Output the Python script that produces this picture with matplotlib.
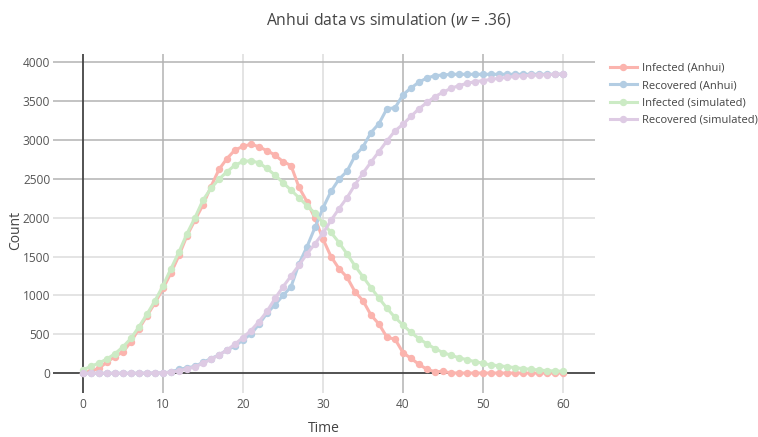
import numpy as np
import matplotlib
matplotlib.use("Agg")
import matplotlib.pyplot as plt

plt.rcParams['font.family'] = ['Open Sans', 'DejaVu Sans']
plt.rcParams['mathtext.fontset'] = 'custom'
plt.rcParams['mathtext.it'] = 'Open Sans:italic'
plt.rcParams['mathtext.rm'] = 'Open Sans'

t = np.arange(61)

infected_anhui = [10, 30, 65, 145, 215, 275, 405, 575, 740, 905,
                  1090, 1290, 1515, 1770, 1970, 2165, 2400, 2620, 2760, 2870,
                  2915, 2945, 2910, 2860, 2805, 2720, 2670, 2390, 2205, 1990,
                  1725, 1500, 1345, 1235, 1047, 932, 748, 632, 462, 440,
                  265, 192, 115, 51, 21, 25, 5, 3, 3, 3,
                  3, 3, 3, 3, 3, 3, 3, 3, 3, 3, 3]
recovered_anhui = [0, 0, 0, 0, 0, 0, 0, 0, 2, 3,
                   5, 18, 50, 70, 90, 140, 190, 235, 299, 350,
                   430, 505, 630, 772, 882, 1000, 1111, 1408, 1626, 1875,
                   2125, 2338, 2494, 2596, 2795, 2910, 3094, 3209, 3402, 3410,
                   3580, 3666, 3742, 3795, 3825, 3833, 3842, 3842, 3842, 3842,
                   3842, 3842, 3842, 3842, 3842, 3842, 3842, 3842, 3842, 3842, 3842]
infected_sim = [45, 90, 132, 185, 252, 340, 450, 598, 760, 932,
                1125, 1345, 1560, 1795, 2000, 2226, 2376, 2496, 2590, 2675,
                2722, 2731, 2705, 2632, 2547, 2449, 2355, 2256, 2154, 2056,
                1930, 1810, 1680, 1535, 1380, 1240, 1100, 965, 835, 718,
                620, 525, 445, 378, 316, 267, 231, 200, 175, 150,
                128, 107, 98, 85, 73, 60, 51, 43, 34, 30, 26]
recovered_sim = [0, 0, 0, 0, 0, 0, 0, 1, 2, 4,
                 7, 13, 34, 56, 85, 128, 180, 235, 299, 376,
                 460, 550, 665, 795, 962, 1111, 1250, 1391, 1535, 1665,
                 1800, 1965, 2115, 2256, 2423, 2573, 2714, 2850, 2987, 3115,
                 3200, 3302, 3400, 3480, 3556, 3611, 3662, 3697, 3726, 3748,
                 3760, 3778, 3791, 3803, 3816, 3825, 3829, 3833, 3838, 3842, 3846]

series = [
    ("Infected (Anhui)", infected_anhui, "#fbb4ae"),
    ("Recovered (Anhui)", recovered_anhui, "#b3cde3"),
    ("Infected (simulated)", infected_sim, "#ccebc5"),
    ("Recovered (simulated)", recovered_sim, "#decbe4"),
]

W, H = 758, 437
fig = plt.figure(figsize=(W / 100, H / 100), dpi=100)
ax = fig.add_axes([53 / W, 1 - 393 / H, (595 - 53) / W, (393 - 54) / H])

for name, vals, col in series:
    ax.plot(t, vals, color=col, lw=2.2, marker="o", ms=4.3, label=name, zorder=3)

ax.set_xlim(-3.75, 64)
ax.set_ylim(-253, 4103)
ax.set_xticks([0, 10, 20, 30, 40, 50, 60])
ax.set_yticks([0, 500, 1000, 1500, 2000, 2500, 3000, 3500, 4000])

for s in ax.spines.values():
    s.set_visible(False)
ax.tick_params(length=0, labelsize=8.6, labelcolor="#555555")
ax.tick_params(axis="y", pad=2)
ax.tick_params(axis="x", pad=3.5)

ax.grid(True, lw=1.1)
dark, light = "#b3b3b3", "#dcdcdc"
for val, gl in zip(ax.get_xticks(), ax.get_xgridlines()):
    gl.set_color(dark if val in (10, 40, 50) else light)
    if val == 0:
        gl.set_visible(False)
for val, gl in zip(ax.get_yticks(), ax.get_ygridlines()):
    gl.set_color(dark if val >= 2500 else light)
    if val == 0:
        gl.set_visible(False)
ax.set_axisbelow(True)
ax.axvline(0, color="#444444", lw=1.3, zorder=1)
ax.axhline(0, color="#444444", lw=1.3, zorder=1)

fig.text(324 / W, 1 - 428 / H, "Time", fontsize=10, color="#444444",
         ha="center", va="center")
fig.text(16 / W, 1 - 230 / H, "Count", fontsize=10, color="#444444",
         ha="center", va="center", rotation=90)
fig.text(389 / W, 1 - 20 / H, "Anhui data vs simulation ($w$ = .36)",
         fontsize=11.3, color="#444444", ha="center", va="center")

fig.legend(loc="upper left", bbox_to_anchor=(610 / W, 1 - 63 / H), frameon=False,
           fontsize=8, handlelength=2.4, handletextpad=0.45, labelspacing=0.56,
           borderaxespad=0, borderpad=0, labelcolor="#444444", numpoints=1)

fig.savefig("out.png", dpi=100)
